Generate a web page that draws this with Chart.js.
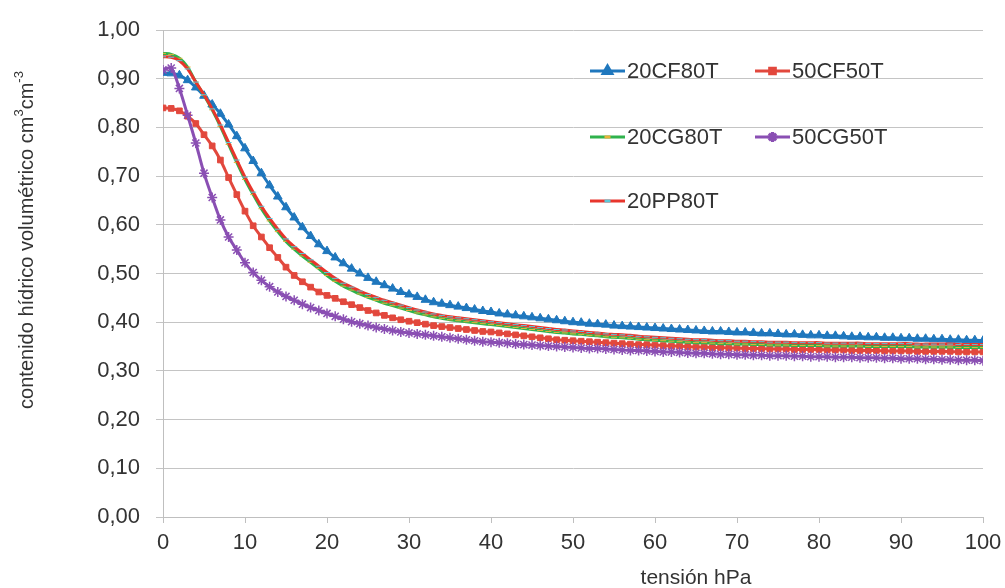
<!DOCTYPE html>
<html>
<head>
<meta charset="utf-8">
<script src="https://cdn.jsdelivr.net/npm/chart.js@4/dist/chart.umd.min.js"></script>
<style>
  html, body { margin: 0; padding: 0; background: #fff; }
  #wrap { width: 1005px; height: 588px; }
</style>
</head>
<body>
<div id="wrap"><canvas id="curvas" width="1005" height="588"></canvas></div>
<script>
// Curvas de retención: contenido hídrico volumétrico frente a tensión (hPa).

const tension = [
  0, 1, 2, 3, 4, 5, 6, 7, 8, 9, 10, 11, 12, 13, 14, 15, 16, 17, 18, 19, 20,
  21, 22, 23, 24, 25, 26, 27, 28, 29, 30, 31, 32, 33, 34, 35, 36, 37, 38, 39, 40,
  41, 42, 43, 44, 45, 46, 47, 48, 49, 50, 51, 52, 53, 54, 55, 56, 57, 58, 59, 60,
  61, 62, 63, 64, 65, 66, 67, 68, 69, 70, 71, 72, 73, 74, 75, 76, 77, 78, 79, 80,
  81, 82, 83, 84, 85, 86, 87, 88, 89, 90, 91, 92, 93, 94, 95, 96, 97, 98, 99, 100
];

const cf80 = [
  0.912, 0.911, 0.907, 0.897, 0.882, 0.865, 0.847, 0.828, 0.806, 0.782, 0.757,
  0.731, 0.706, 0.681, 0.658, 0.636, 0.615, 0.595, 0.577, 0.560, 0.546,
  0.533, 0.521, 0.510, 0.500, 0.491, 0.483, 0.476, 0.469, 0.462, 0.457,
  0.452, 0.446, 0.441, 0.438, 0.435, 0.432, 0.429, 0.426, 0.423, 0.421,
  0.418, 0.416, 0.414, 0.412, 0.410, 0.408, 0.406, 0.404, 0.402, 0.400,
  0.399, 0.397, 0.396, 0.395, 0.393, 0.392, 0.391, 0.390, 0.389, 0.388,
  0.387, 0.386, 0.385, 0.384, 0.383, 0.382, 0.381, 0.381, 0.380, 0.379,
  0.379, 0.378, 0.377, 0.377, 0.376, 0.375, 0.375, 0.374, 0.373, 0.373,
  0.372, 0.372, 0.371, 0.370, 0.370, 0.369, 0.369, 0.368, 0.368, 0.367,
  0.367, 0.366, 0.366, 0.365, 0.365, 0.364, 0.364, 0.363, 0.363, 0.362
];

const cf50 = [
  0.840, 0.839, 0.834, 0.823, 0.808, 0.785, 0.762, 0.733, 0.697, 0.662, 0.628,
  0.598, 0.575, 0.553, 0.533, 0.513, 0.496, 0.483, 0.472, 0.462, 0.455,
  0.449, 0.442, 0.436, 0.430, 0.424, 0.419, 0.414, 0.409, 0.405, 0.402,
  0.399, 0.396, 0.393, 0.391, 0.389, 0.387, 0.385, 0.383, 0.381, 0.380,
  0.378, 0.376, 0.374, 0.372, 0.370, 0.368, 0.366, 0.364, 0.363, 0.362,
  0.361, 0.360, 0.359, 0.358, 0.357, 0.356, 0.355, 0.354, 0.354, 0.353,
  0.352, 0.351, 0.351, 0.350, 0.349, 0.349, 0.348, 0.348, 0.347, 0.347,
  0.346, 0.346, 0.346, 0.345, 0.345, 0.345, 0.344, 0.344, 0.344, 0.344,
  0.343, 0.343, 0.343, 0.342, 0.342, 0.342, 0.342, 0.341, 0.341, 0.341,
  0.341, 0.340, 0.340, 0.340, 0.340, 0.340, 0.339, 0.339, 0.339, 0.339
];

const cg80 = [
  0.952, 0.950, 0.942, 0.924, 0.893, 0.866, 0.836, 0.802, 0.765, 0.728, 0.693,
  0.662, 0.633, 0.608, 0.586, 0.566, 0.550, 0.536, 0.523, 0.510, 0.496,
  0.484, 0.474, 0.466, 0.458, 0.451, 0.445, 0.439, 0.434, 0.429, 0.424,
  0.419, 0.415, 0.411, 0.408, 0.405, 0.403, 0.401, 0.399, 0.397, 0.395,
  0.393, 0.391, 0.389, 0.387, 0.385, 0.383, 0.381, 0.379, 0.378, 0.376,
  0.375, 0.373, 0.372, 0.370, 0.369, 0.368, 0.367, 0.365, 0.364, 0.363,
  0.362, 0.361, 0.360, 0.359, 0.358, 0.358, 0.357, 0.356, 0.356, 0.355,
  0.355, 0.354, 0.354, 0.353, 0.353, 0.353, 0.352, 0.352, 0.352, 0.352,
  0.351, 0.351, 0.351, 0.351, 0.351, 0.350, 0.350, 0.350, 0.350, 0.350,
  0.350, 0.349, 0.349, 0.349, 0.349, 0.349, 0.348, 0.348, 0.348, 0.348
];

const cg50 = [
  0.918, 0.922, 0.880, 0.825, 0.768, 0.706, 0.656, 0.610, 0.575, 0.548, 0.522,
  0.502, 0.486, 0.473, 0.462, 0.453, 0.445, 0.437, 0.430, 0.424, 0.418,
  0.412, 0.406, 0.401, 0.397, 0.393, 0.389, 0.386, 0.383, 0.380, 0.378,
  0.376, 0.374, 0.372, 0.370, 0.368, 0.366, 0.364, 0.362, 0.360, 0.359,
  0.358, 0.357, 0.355, 0.354, 0.353, 0.352, 0.351, 0.350, 0.349, 0.348,
  0.347, 0.346, 0.346, 0.345, 0.344, 0.343, 0.342, 0.342, 0.341, 0.340,
  0.339, 0.339, 0.338, 0.337, 0.336, 0.336, 0.335, 0.334, 0.334, 0.333,
  0.333, 0.332, 0.332, 0.331, 0.331, 0.331, 0.330, 0.330, 0.329, 0.329,
  0.329, 0.328, 0.328, 0.328, 0.327, 0.327, 0.327, 0.326, 0.326, 0.325,
  0.325, 0.325, 0.324, 0.324, 0.323, 0.323, 0.322, 0.322, 0.322, 0.321
];

const pp80 = [
  0.945, 0.944, 0.937, 0.920, 0.893, 0.867, 0.838, 0.805, 0.769, 0.733, 0.698,
  0.667, 0.638, 0.613, 0.591, 0.571, 0.555, 0.541, 0.528, 0.515, 0.502,
  0.490, 0.480, 0.472, 0.464, 0.457, 0.451, 0.445, 0.440, 0.435, 0.430,
  0.425, 0.421, 0.417, 0.414, 0.411, 0.409, 0.407, 0.405, 0.403, 0.401,
  0.399, 0.397, 0.395, 0.393, 0.391, 0.389, 0.387, 0.385, 0.384, 0.382,
  0.381, 0.379, 0.378, 0.376, 0.375, 0.374, 0.373, 0.371, 0.370, 0.369,
  0.368, 0.367, 0.366, 0.365, 0.364, 0.364, 0.363, 0.362, 0.362, 0.361,
  0.361, 0.360, 0.360, 0.359, 0.359, 0.359, 0.358, 0.358, 0.358, 0.358,
  0.357, 0.357, 0.357, 0.357, 0.357, 0.356, 0.356, 0.356, 0.356, 0.356,
  0.356, 0.355, 0.355, 0.355, 0.355, 0.355, 0.354, 0.354, 0.354, 0.354
];

const seriesNames = ["20CF80T", "50CF50T", "20CG80T", "50CG50T", "20PP80T"];
const yTicks = [0, 0.1, 0.2, 0.3, 0.4, 0.5, 0.6, 0.7, 0.8, 0.9, 1.0];
const xTitle = "tensión hPa";
const yTitle = ["contenido hídrico volumétrico cm", "3", "cm", "-3"];

const FONT = "'Liberation Sans', Arial, sans-serif";
const INK = "#333333";

function pts(values) {
  return tension.map((t, i) => ({ x: t, y: values[i] }));
}

// leyenda a mano: dos columnas dentro del área de trazado, como en el original
const LEGEND_SLOTS = [
  { x: 590, y: 71 },
  { x: 755, y: 71 },
  { x: 590, y: 137 },
  { x: 755, y: 137 },
  { x: 590, y: 201 },
];

const titlesAndLegend = {
  id: "titlesAndLegend",
  afterDraw(chart) {
    const ctx = chart.ctx;
    ctx.save();

    // título eje y, girado, con superíndices
    ctx.translate(27, 240);
    ctx.rotate(-Math.PI / 2);
    const big = "20px " + FONT;
    const small = "13px " + FONT;
    const parts = [
      [yTitle[0], big, 0],
      [yTitle[1], small, -8],
      [yTitle[2], big, 0],
      [yTitle[3], small, -8],
    ];
    let w = 0;
    parts.forEach(([t, f]) => { ctx.font = f; w += ctx.measureText(t).width; });
    let cx = -w / 2;
    ctx.fillStyle = INK;
    ctx.textBaseline = "middle";
    ctx.textAlign = "left";
    parts.forEach(([t, f, dy]) => {
      ctx.font = f;
      ctx.fillText(t, cx, dy);
      cx += ctx.measureText(t).width;
    });
    ctx.restore();

    // título eje x
    ctx.save();
    ctx.font = "21px " + FONT;
    ctx.fillStyle = INK;
    ctx.textAlign = "center";
    ctx.textBaseline = "middle";
    ctx.fillText(xTitle, chart.scales.x.getPixelForValue(65), 578);
    ctx.restore();

    // leyenda
    ctx.save();
    chart.data.datasets.forEach((ds, i) => {
      const slot = LEGEND_SLOTS[i];
      ctx.strokeStyle = ds.borderColor;
      ctx.lineWidth = 3;
      ctx.beginPath();
      ctx.moveTo(slot.x, slot.y);
      ctx.lineTo(slot.x + 35, slot.y);
      ctx.stroke();
      if (ds.pointStyle) {
        ctx.fillStyle = ds.pointBackgroundColor;
        ctx.strokeStyle = ds.pointBorderColor;
        Chart.helpers.drawPoint(ctx, {
          pointStyle: ds.pointStyle,
          radius: ds.pointRadius,
          rotation: 0,
          borderWidth: ds.pointBorderWidth,
        }, slot.x + 17.5, slot.y);
      }
      ctx.font = "22px " + FONT;
      ctx.fillStyle = INK;
      ctx.textAlign = "left";
      ctx.textBaseline = "middle";
      ctx.fillText(ds.label, slot.x + 37, slot.y + 1);
    });
    ctx.restore();
  },
};

new Chart(document.getElementById("curvas").getContext("2d"), {
  type: "line",
  data: {
    datasets: [
      {
        label: seriesNames[0], data: pts(cf80), order: 4,
        borderColor: "#1f77bd", borderWidth: 3,
        pointStyle: "triangle", pointRadius: 5, pointBackgroundColor: "#1f77bd",
        pointBorderColor: "#1f77bd", pointBorderWidth: 1,
      },
      {
        label: seriesNames[1], data: pts(cf50), order: 3,
        borderColor: "#e2483d", borderWidth: 3,
        pointStyle: "rect", pointRadius: 4, pointBackgroundColor: "#e2483d",
        pointBorderColor: "#e2483d", pointBorderWidth: 1,
      },
      {
        label: seriesNames[2], data: pts(cg80), order: 2,
        borderColor: "#2fb24c", borderWidth: 3,
        pointStyle: "line", pointRadius: 3, pointBackgroundColor: "#e8b23a",
        pointBorderColor: "#e8b23a", pointBorderWidth: 1,
      },
      {
        label: seriesNames[3], data: pts(cg50), order: 1,
        borderColor: "#8a4fb3", borderWidth: 3,
        pointStyle: "star", pointRadius: 5, pointBackgroundColor: "#8a4fb3",
        pointBorderColor: "#8a4fb3", pointBorderWidth: 1.5,
      },
      {
        label: seriesNames[4], data: pts(pp80), order: 0,
        borderColor: "#e8352c", borderWidth: 3,
        pointStyle: "line", pointRadius: 3, pointBackgroundColor: "#5cc8d8",
        pointBorderColor: "#5cc8d8", pointBorderWidth: 1,
      },
    ],
  },
  options: {
    responsive: false,
    animation: false,
    devicePixelRatio: 1,
    layout: { padding: { left: 0, right: 22, top: 30, bottom: 0 } },
    plugins: { legend: { display: false }, tooltip: { enabled: false } },
    elements: { line: { tension: 0.3 } },
    scales: {
      x: {
        type: "linear", min: 0, max: 100,
        afterFit(s) { s.height = 71; s.paddingRight = 0; },
        ticks: { stepSize: 10, color: INK, font: { size: 22, family: FONT }, padding: 7, maxRotation: 0 },
        grid: { drawOnChartArea: false, drawTicks: true, tickLength: 6, color: "#bfbfbf" },
        border: { color: "#bfbfbf", width: 1 },
      },
      y: {
        type: "linear", min: 0, max: 1,
        afterFit(s) { s.width = 163; },
        afterBuildTicks(s) { s.ticks = yTicks.map((v) => ({ value: v })); },
        ticks: {
          color: INK, font: { size: 22, family: FONT }, padding: 16,
          callback: (v) => Number(v).toFixed(2).replace(".", ","),
        },
        grid: { color: "#c4c4c4", tickLength: 7 },
        border: { color: "#bfbfbf", width: 1 },
      },
    },
  },
  plugins: [titlesAndLegend],
});
</script>
</body>
</html>
